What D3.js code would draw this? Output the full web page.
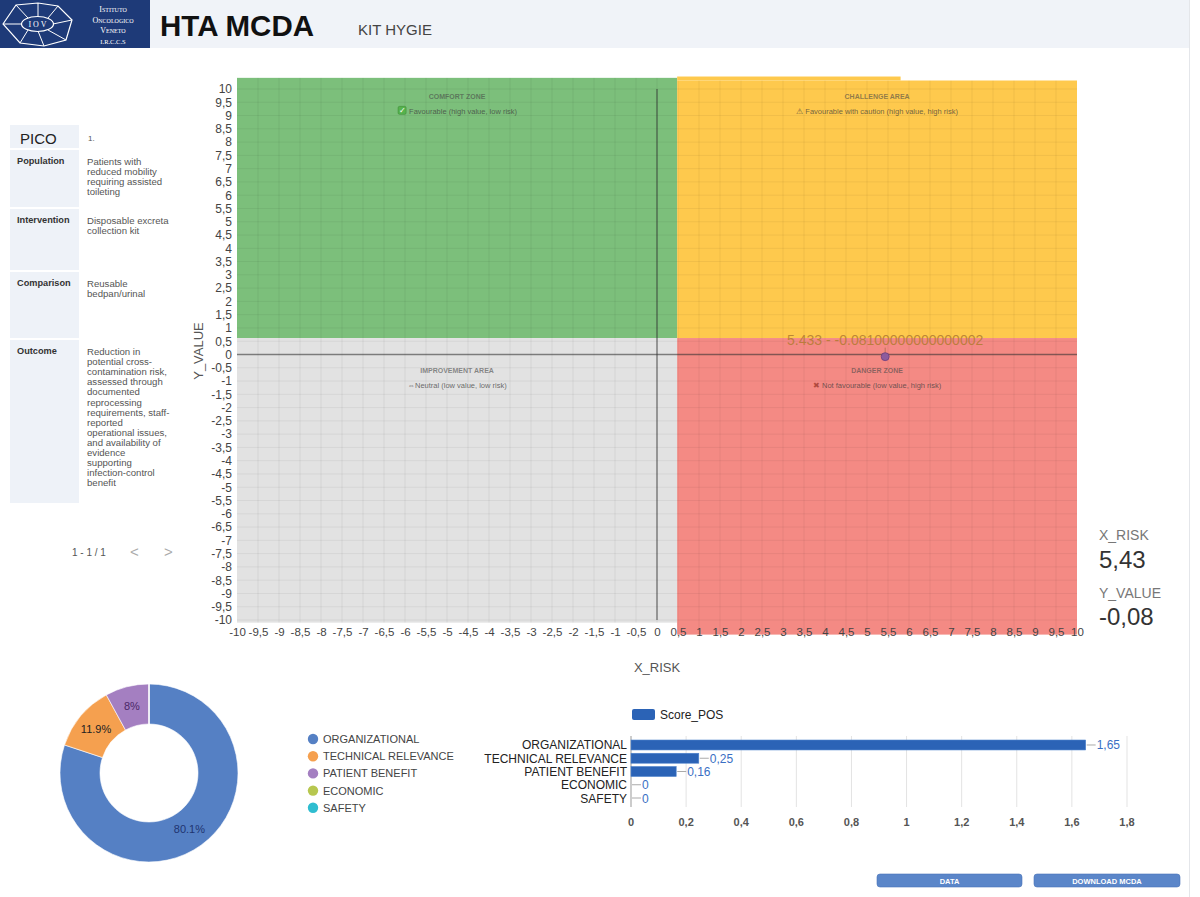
<!DOCTYPE html>
<html>
<head>
<meta charset="utf-8">
<script src="https://cdn.jsdelivr.net/npm/d3@7"></script>
<style>
  html, body { margin: 0; padding: 0; background: #fff; }
  svg { display: block; font-family: "Liberation Sans", Arial, sans-serif; }
</style>
</head>
<body>
<svg id="page" width="1200" height="897"></svg>
<script>
/* ========== DATA ========== */
const projectName = "KIT HYGIE";

const picoLabels = ["Population", "Intervention", "Comparison", "Outcome"];
const picoTexts = [
  ["Patients with", "reduced mobility", "requiring assisted", "toileting"],
  ["Disposable excreta", "collection kit"],
  ["Reusable", "bedpan/urinal"],
  ["Reduction in", "potential cross-", "contamination risk,", "assessed through", "documented",
   "reprocessing", "requirements, staff-", "reported", "operational issues,", "and availability of",
   "evidence", "supporting", "infection-control", "benefit"]
];

const zoneNames = ["COMFORT ZONE", "CHALLENGE AREA", "IMPROVEMENT AREA", "DANGER ZONE"];
const zoneNotes = [
  "Favourable (high value, low risk)",
  "Favourable with caution (high value, high risk)",
  "Neutral (low value, low risk)",
  "Not favourable (low value, high risk)"
];
const zoneIcons = ["\u2713", "\u26A0 ", "\u21D4", "\u2716 "];

const xTicks = d3.range(-10, 10.5, 0.5);
const yTicks = d3.range(-10, 10.5, 0.5);

const riskX = 5.433;
const valueY = -0.08100000000000002;

const categories = ["ORGANIZATIONAL", "TECHNICAL RELEVANCE", "PATIENT BENEFIT", "ECONOMIC", "SAFETY"];
const scorePos = [1.65, 0.246, 0.164, 0, 0];
const barTicks = [0, 0.2, 0.4, 0.6, 0.8, 1, 1.2, 1.4, 1.6, 1.8];

/* ========== STYLE / LAYOUT ========== */
const zoneFill = ["#7cbf7b", "#fec94d", "#e2e2e2", "#f48a84"];
const sliceColors = ["#5580c4", "#f5a04f", "#a47fc1", "#b7c74f", "#2fbdd0"];
const sliceTextColors = ["#1f3470", "#222", "#4b2768", "#333", "#333"];
const barColor = "#2b63b6";

const SPLIT_X = 0.48, SPLIT_Y = 0.62, ZONE_TOP = 10.42, LEFT_BOTTOM = -10.1, RIGHT_BOTTOM = -10.55;

const comma = (v) => String(v).replace(".", ",");

const svg = d3.select("#page");

/* ========== HEADER ========== */
svg.append("rect").attr("x", 150).attr("y", 0).attr("width", 1040).attr("height", 48).attr("fill", "#f0f3f8");
svg.append("line").attr("x1", 1189.5).attr("x2", 1189.5).attr("y1", 0).attr("y2", 897)
  .attr("stroke", "#e4e6ea");

const logo = svg.append("g");
logo.append("rect").attr("width", 150).attr("height", 48).attr("fill", "#1e3a78");
const outer = [[3, 24], [16, 5], [38, 3], [58, 6], [72, 20], [66, 40], [44, 46], [20, 43]];
const inner = [[22, 24], [28, 18], [38, 17], [48, 18], [53, 24], [48, 30], [38, 31], [28, 30]];
logo.append("polygon").attr("points", outer.map((p) => p.join(",")).join(" "))
  .attr("fill", "none").attr("stroke", "#fff").attr("stroke-width", 1.2);
logo.append("ellipse").attr("cx", 37.5).attr("cy", 24).attr("rx", 16).attr("ry", 7.5)
  .attr("fill", "none").attr("stroke", "#fff").attr("stroke-width", 1.2);
logo.selectAll("line.spoke").data(d3.range(outer.length)).enter().append("line")
  .attr("x1", (i) => outer[i][0]).attr("y1", (i) => outer[i][1])
  .attr("x2", (i) => inner[i][0]).attr("y2", (i) => inner[i][1])
  .attr("stroke", "#fff").attr("stroke-width", 1);
logo.append("text").attr("x", 37.5).attr("y", 27).attr("text-anchor", "middle")
  .attr("font-family", "Liberation Serif, serif").attr("font-size", 8).attr("fill", "#fff").text("I O V");
["Istituto", "Oncologico", "Veneto", "I.R.C.C.S"].forEach((t, i) => {
  logo.append("text").attr("x", 113).attr("y", 12 + i * 10.5).attr("text-anchor", "middle")
    .attr("font-family", "Liberation Serif, serif").attr("font-size", i === 3 ? 6.5 : 8)
    .style("font-variant", "small-caps").attr("fill", "#fff").text(t);
});

svg.append("text").attr("x", 160).attr("y", 36).attr("font-size", 29.5).attr("font-weight", "bold")
  .attr("fill", "#111").text("HTA MCDA");
svg.append("text").attr("x", 358).attr("y", 35).attr("font-size", 15).attr("fill", "#444").text(projectName);

/* ========== PICO PANEL ========== */
const pico = svg.append("g");
pico.append("rect").attr("x", 10).attr("y", 125).attr("width", 69).attr("height", 23).attr("fill", "#eef2f8");
pico.append("text").attr("x", 20).attr("y", 144).attr("font-size", 15).attr("fill", "#222").text("PICO");
pico.append("text").attr("x", 88).attr("y", 141).attr("font-size", 8).attr("fill", "#555").text("1.");

const rowTop = [150, 209, 272, 340];
const rowBottom = [207, 270, 338, 503];
picoLabels.forEach((lab, i) => {
  pico.append("rect").attr("x", 10).attr("y", rowTop[i]).attr("width", 69)
    .attr("height", rowBottom[i] - rowTop[i]).attr("fill", "#eef2f8");
  pico.append("text").attr("x", 17).attr("y", rowTop[i] + 14).attr("font-size", 9.2)
    .attr("font-weight", "bold").attr("fill", "#333").text(lab);
  const t = pico.append("text").attr("x", 87).attr("y", rowTop[i] + 15).attr("font-size", 9.6).attr("fill", "#555");
  picoTexts[i].forEach((line, j) => {
    t.append("tspan").attr("x", 87).attr("dy", j === 0 ? 0 : 10.1).text(line);
  });
});
pico.append("text").attr("x", 72).attr("y", 556).attr("font-size", 10).attr("fill", "#555").text("1 - 1 / 1");
pico.append("text").attr("x", 130).attr("y", 557).attr("font-size", 15).attr("fill", "#aaa").text("<");
pico.append("text").attr("x", 164).attr("y", 557).attr("font-size", 15).attr("fill", "#aaa").text(">");

/* ========== QUADRANT CHART ========== */
const x = d3.scaleLinear().domain([-10, 10]).range([237, 1077]);
const y = d3.scaleLinear().domain([-10, 10]).range([620, 89]);
const quad = svg.append("g");

const zones = [
  { x0: -10, x1: SPLIT_X, y0: SPLIT_Y, y1: ZONE_TOP },
  { x0: SPLIT_X, x1: 10, y0: SPLIT_Y, y1: ZONE_TOP - 0.1 },
  { x0: -10, x1: SPLIT_X, y0: LEFT_BOTTOM, y1: SPLIT_Y },
  { x0: SPLIT_X, x1: 10, y0: RIGHT_BOTTOM, y1: SPLIT_Y }
];
quad.selectAll("rect.zone").data(zones).enter().append("rect")
  .attr("x", (d) => x(d.x0)).attr("y", (d) => y(d.y1))
  .attr("width", (d) => x(d.x1) - x(d.x0)).attr("height", (d) => y(d.y0) - y(d.y1))
  .attr("fill", (d, i) => zoneFill[i]);
// slightly taller strip on the left half of the challenge area
quad.append("rect").attr("x", x(SPLIT_X)).attr("y", y(ZONE_TOP + 0.05))
  .attr("width", x(5.8) - x(SPLIT_X)).attr("height", y(ZONE_TOP - 0.1) - y(ZONE_TOP + 0.05))
  .attr("fill", zoneFill[1]);

// grid every 0.5, clipped to the coloured zones
zones.forEach((z) => {
  const g = quad.append("g").attr("stroke", "rgba(0,0,0,0.055)").attr("stroke-width", 1);
  xTicks.filter((v) => v > z.x0 && v < z.x1).forEach((v) => {
    g.append("line").attr("x1", x(v)).attr("x2", x(v)).attr("y1", y(z.y1)).attr("y2", y(z.y0));
  });
  yTicks.filter((v) => v > z.y0 && v < z.y1).forEach((v) => {
    g.append("line").attr("x1", x(z.x0)).attr("x2", x(z.x1)).attr("y1", y(v)).attr("y2", y(v));
  });
});

// zone titles
zones.forEach((z, i) => {
  const cx = (x(z.x0) + x(z.x1)) / 2;
  const top = i < 2 ? y(ZONE_TOP) + 21 : y(SPLIT_Y) + 35;
  quad.append("text").attr("x", cx).attr("y", top).attr("text-anchor", "middle")
    .attr("font-size", 7).attr("font-weight", "bold").attr("fill", "rgba(70,70,70,0.6)").text(zoneNames[i]);
  if (i === 0) {
    const note = quad.append("text").attr("x", cx + 6).attr("y", top + 15).attr("text-anchor", "middle")
      .attr("font-size", 7.5).attr("fill", "rgba(60,60,60,0.75)").text(zoneNotes[i]);
    const w = note.node().getComputedTextLength();
    const bx0 = cx + 6 - w / 2 - 11;
    quad.append("rect").attr("x", bx0).attr("y", top + 7.5).attr("width", 8).attr("height", 8)
      .attr("rx", 1.5).attr("fill", "#56b34d").attr("stroke", "#3e8f38").attr("stroke-width", 0.6);
    quad.append("text").attr("x", bx0 + 4).attr("y", top + 14.5).attr("text-anchor", "middle")
      .attr("font-size", 7.5).attr("fill", "#fff").text(zoneIcons[0]);
  } else {
    const note = quad.append("text").attr("x", cx).attr("y", top + 15).attr("text-anchor", "middle")
      .attr("font-size", 7.5).attr("fill", "rgba(60,60,60,0.75)");
    note.append("tspan").attr("fill", i === 3 ? "#b04a3e" : "rgba(60,60,60,0.8)").text(zoneIcons[i]);
    note.append("tspan").text(zoneNotes[i]);
  }
});

// zero lines
quad.append("line").attr("x1", x(0)).attr("x2", x(0)).attr("y1", y(10)).attr("y2", y(-10))
  .attr("stroke", "rgba(50,50,50,0.55)").attr("stroke-width", 1.5);
quad.append("line").attr("x1", x(-10)).attr("x2", x(10)).attr("y1", y(0)).attr("y2", y(0))
  .attr("stroke", "rgba(50,50,50,0.55)").attr("stroke-width", 1.5);

// axes
const yAxis = quad.append("g").attr("transform", "translate(235,0)")
  .call(d3.axisLeft(y).tickValues(yTicks).tickSize(0).tickPadding(3).tickFormat(comma));
const xAxis = quad.append("g").attr("transform", "translate(0,622)")
  .call(d3.axisBottom(x).tickValues(xTicks).tickSize(0).tickPadding(6).tickFormat(comma));
[yAxis, xAxis].forEach((a) => {
  a.select(".domain").remove();
  a.selectAll("text").attr("font-size", 12).attr("fill", "#444")
    .attr("font-family", "Liberation Sans, Arial, sans-serif");
});
xAxis.selectAll("text").attr("font-size", 11.5);

quad.append("text").attr("transform", "translate(203,351) rotate(-90)").attr("text-anchor", "middle")
  .attr("font-size", 13).attr("fill", "#555").text("Y_VALUE");
quad.append("text").attr("x", 657).attr("y", 672).attr("text-anchor", "middle")
  .attr("font-size", 13).attr("fill", "#555").text("X_RISK");

// the point
quad.append("line").attr("x1", x(riskX)).attr("x2", x(riskX)).attr("y1", y(valueY) - 9).attr("y2", y(valueY) - 4)
  .attr("stroke", "rgba(150,100,60,0.6)");
quad.append("circle").attr("cx", x(riskX)).attr("cy", y(valueY)).attr("r", 4)
  .attr("fill", "#8d5c9d").attr("stroke", "#6d3f7c").attr("stroke-width", 0.8);
quad.append("text").attr("x", x(riskX)).attr("y", y(valueY) - 12).attr("text-anchor", "middle")
  .attr("font-size", 14).attr("fill", "rgba(178,122,48,0.85)").text(`${riskX} - ${valueY}`);

// values on the right
const side = svg.append("g").attr("fill", "#333");
side.append("text").attr("x", 1099).attr("y", 540).attr("font-size", 14).attr("fill", "#777").text("X_RISK");
side.append("text").attr("x", 1099).attr("y", 568).attr("font-size", 24).text(comma(riskX.toFixed(2)));
side.append("text").attr("x", 1099).attr("y", 598).attr("font-size", 14).attr("fill", "#777").text("Y_VALUE");
side.append("text").attr("x", 1099).attr("y", 625).attr("font-size", 24).text(comma(valueY.toFixed(2)));

/* ========== DONUT ========== */
const donut = svg.append("g").attr("transform", "translate(149,773)");
const pie = d3.pie().sort(null).value((d) => d);
const arc = d3.arc().innerRadius(49).outerRadius(89);
const labelArc = d3.arc().innerRadius(69).outerRadius(69);
const total = d3.sum(scorePos);
const pieData = pie(scorePos);
donut.selectAll("path").data(pieData).enter().append("path")
  .attr("d", arc).attr("fill", (d, i) => sliceColors[i]).attr("stroke", "#fff").attr("stroke-width", 0.6);
donut.selectAll("text").data(pieData.filter((d) => d.value > 0)).enter().append("text")
  .attr("transform", (d) => `translate(${labelArc.centroid(d)})`)
  .attr("text-anchor", "middle").attr("dy", "0.35em").attr("font-size", 11)
  .attr("fill", (d) => sliceTextColors[d.index])
  .text((d) => d3.format(".1%")(d.value / total).replace(".0%", "%"));

const legend = svg.append("g");
categories.forEach((c, i) => {
  legend.append("circle").attr("cx", 313).attr("cy", 739 + i * 17.2).attr("r", 5.2).attr("fill", sliceColors[i]);
  legend.append("text").attr("x", 323).attr("y", 743 + i * 17.2).attr("font-size", 11).attr("fill", "#444").text(c);
});

/* ========== BAR CHART ========== */
const bx = d3.scaleLinear().domain([0, 1.8]).range([631, 1127]);
const by = d3.scaleBand().domain(categories).range([736.7, 806.3]).padding(0.25);
const bars = svg.append("g");

bars.append("rect").attr("x", 632).attr("y", 709).attr("width", 23).attr("height", 11).attr("rx", 2).attr("fill", barColor);
bars.append("text").attr("x", 660).attr("y", 719).attr("font-size", 12).attr("fill", "#222").text("Score_POS");

bars.selectAll("line.grid").data(barTicks).enter().append("line")
  .attr("x1", (d) => bx(d)).attr("x2", (d) => bx(d)).attr("y1", 736).attr("y2", 807)
  .attr("stroke", (d) => d === 0 ? "#999" : "#e3e3e3");

bars.selectAll("rect.bar").data(scorePos).enter().append("rect")
  .attr("x", bx(0)).attr("y", (d, i) => by(categories[i]))
  .attr("width", (d) => bx(d) - bx(0)).attr("height", by.bandwidth())
  .attr("fill", barColor).attr("stroke", "#4d82cc").attr("stroke-width", 0.6);

bars.selectAll("line.lead").data(scorePos).enter().append("line")
  .attr("x1", (d) => bx(d) + 1).attr("x2", (d) => bx(d) + 10)
  .attr("y1", (d, i) => by(categories[i]) + by.bandwidth() / 2)
  .attr("y2", (d, i) => by(categories[i]) + by.bandwidth() / 2)
  .attr("stroke", "#aaa");
bars.selectAll("text.val").data(scorePos).enter().append("text")
  .attr("x", (d) => bx(d) + 11).attr("y", (d, i) => by(categories[i]) + by.bandwidth() / 2 + 4.5)
  .attr("font-size", 12).attr("fill", "#3a6fc4").text((d) => comma(+d.toFixed(2)));

bars.selectAll("text.cat").data(categories).enter().append("text")
  .attr("x", 627).attr("y", (d) => by(d) + by.bandwidth() / 2 + 4.5).attr("text-anchor", "end")
  .attr("font-size", 12).attr("fill", "#222").text((d) => d);

bars.selectAll("text.tick").data(barTicks).enter().append("text")
  .attr("x", (d) => bx(d)).attr("y", 826).attr("text-anchor", "middle")
  .attr("font-size", 11).attr("font-weight", "bold").attr("fill", "#555").text((d) => comma(d));

/* ========== BUTTONS ========== */
[["DATA", 877, 145], ["DOWNLOAD MCDA", 1034, 146]].forEach(([label, bxPos, w]) => {
  svg.append("rect").attr("x", bxPos).attr("y", 874).attr("width", w).attr("height", 13).attr("rx", 3)
    .attr("fill", "#5b86c9").attr("stroke", "#4a74b8").attr("stroke-width", 0.6);
  svg.append("text").attr("x", bxPos + w / 2).attr("y", 883.5).attr("text-anchor", "middle")
    .attr("font-size", 7.5).attr("font-weight", "bold").attr("fill", "#fff").text(label);
});
</script>
</body>
</html>
